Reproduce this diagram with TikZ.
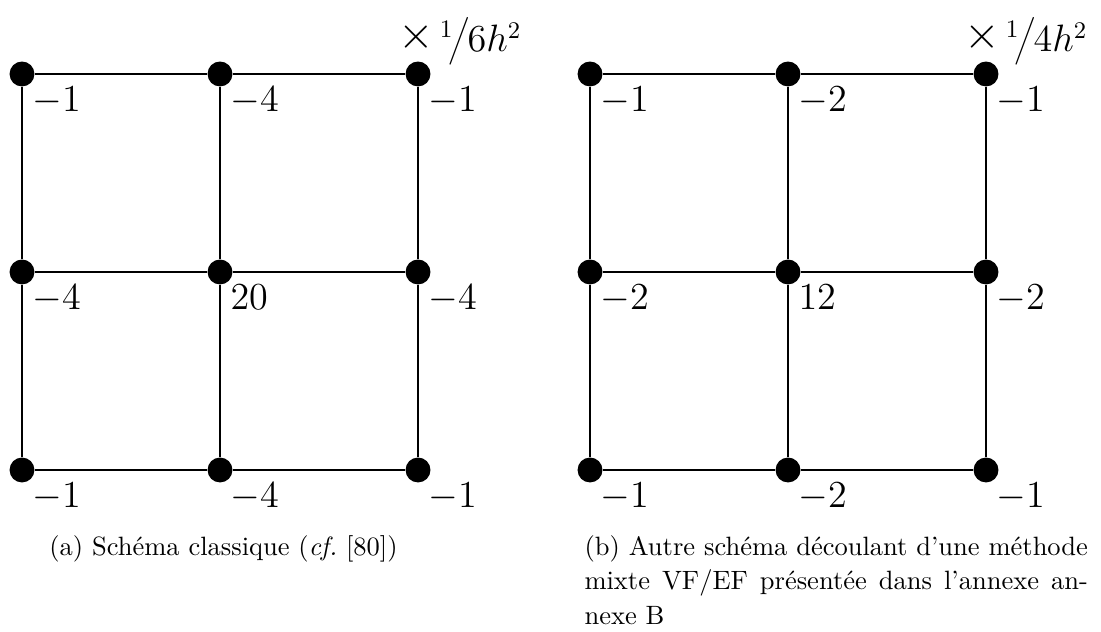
\documentclass[tikz,border=0pt]{standalone}
\usetikzlibrary{calc}
\newcommand{\myfactor}[1]{%
  \raisebox{1.2pt}{\fontsize{19}{20}\selectfont$\times$}\kern2.2pt
  \raisebox{5.4pt}{\fontsize{9.5}{10}\selectfont 1}\kern-1.6pt
  \smash{\raisebox{1.1pt}{\fontsize{11.5}{12}\selectfont$\Big/$}}\kern-0.8pt
  {\fontsize{13.5}{15}\selectfont$#1h^2$}}
\begin{document}
\begin{tikzpicture}[x=0.3774pt,y=-0.3774pt,
  dot/.style={circle,fill=black,inner sep=0pt,minimum size=9.4pt},
  gridline/.style={line width=0.45pt},
  val/.style={anchor=north west,inner sep=0pt,font=\fontsize{13.5}{15}\selectfont},
  factor/.style={anchor=base east,inner sep=0pt},
  capt/.style={inner sep=0pt,font=\fontsize{10}{13}\selectfont}]
\useasboundingbox (0,0) rectangle (1101,632);
% left grid
\foreach \i/\x in {0/22,1/220,2/418}
  \foreach \j/\y in {0/74,1/272,2/470}
    \node[dot] (a\i\j) at (\x,\y) {};
% right grid
\foreach \i/\x in {0/590,1/788,2/986}
  \foreach \j/\y in {0/74,1/272,2/470}
    \node[dot] (b\i\j) at (\x,\y) {};
\foreach \g in {a,b}{
  \draw[gridline] (\g00) -- (\g10) -- (\g20);
  \draw[gridline] (\g01) -- (\g11) -- (\g21);
  \draw[gridline] (\g02) -- (\g12) -- (\g22);
  \draw[gridline] (\g00) -- (\g01) -- (\g02);
  \draw[gridline] (\g10) -- (\g11) -- (\g12);
  \draw[gridline] (\g20) -- (\g21) -- (\g22);
}
% values left
\foreach \n/\v in {00/-1,10/-4,20/-1,01/-4,11/20,21/-4,02/-1,12/-4,22/-1}
  \node[val] (va\n) at ($(a\n)+(10,12)$) {$\v$};
% values right
\foreach \n/\v in {00/-1,10/-2,20/-1,01/-2,11/12,21/-2,02/-1,12/-2,22/-1}
  \node[val] (vb\n) at ($(b\n)+(10,12)$) {$\v$};
% factors
\node[factor] (fa) at (522,52) {\myfactor{6}};
\node[factor] (fb) at (1088,52) {\myfactor{4}};
% captions
\node[capt,anchor=base] (ca) at (223.5,555) {(a) Schéma classique (\textit{cf.}~[80])};
\node[capt,anchor=north west,text width=190pt,align=justify] (cb) at (584,535)
  {(b) Autre schéma découlant d'une méthode\linebreak mixte VF/EF présentée dans l'annexe an-\linebreak nexe B};
\end{tikzpicture}
\end{document}
